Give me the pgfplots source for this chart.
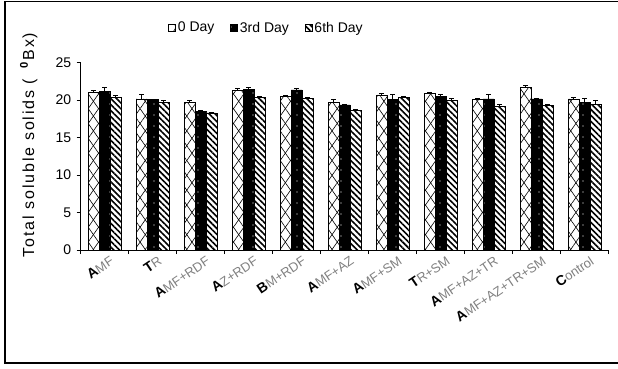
\documentclass[border=0pt]{standalone}
\usepackage{pgfplots}
\pgfplotsset{compat=1.18}
\usepackage{pgfplotstable}
\usepackage{fontspec}
\setmainfont{Liberation Sans}
\newfontfamily\ylabfont[LetterSpace=12]{Liberation Sans}
\usetikzlibrary{patterns,patterns.meta}

\pgfplotstableread{
x v0 e0 v3 e3 v6 e6
0 21.05 0.27 21.20 0.45 20.35 0.25
1 20.15 0.60 20.05 0.05 19.70 0.20
2 19.70 0.20 18.45 0.20 18.30 0.05
3 21.30 0.27 21.45 0.20 20.35 0.10
4 20.45 0.15 21.35 0.20 20.25 0.10
5 19.70 0.35 19.35 0.10 18.60 0.10
6 20.70 0.15 20.05 0.70 20.35 0.15
7 20.85 0.20 20.45 0.30 20.00 0.15
8 20.15 0.10 20.15 0.60 19.20 0.15
9 21.70 0.25 20.15 0.10 19.25 0.15
10 20.15 0.15 19.65 0.50 19.45 0.50
}\data

\pgfplotsset{sqlegend/.style={legend image code/.code={\draw[##1] (0pt,-3.5pt) rectangle (7pt,3.5pt);}}}

\newcommand{\lab}[2]{{\fontsize{14}{14}\selectfont\bfseries #1}{\color{black!50}\fontsize{13}{13}\selectfont #2}}

\begin{document}
\begin{tikzpicture}[x=1pt,y=1pt]
\path[use as bounding box] (0,0) rectangle (618,368);
\draw[line width=1.5pt] (630,5) -- (5,5) -- (5,366.5) -- (630,366.5);
\begin{axis}[
  at={(80.7pt,118pt)}, anchor=south west,
  scale only axis, width=528pt, height=187.5pt,
  ybar=0pt, bar width=11pt,
  xmin=-0.5, xmax=10.5, ymin=0, ymax=25,
  axis x line*=bottom, axis y line*=left,
  axis line style={line width=1pt},
  ytick={0,5,...,25},
  minor ytick={0,5,...,25},
  xtick={0,...,10},
  minor xtick={-0.5,0.5,...,10.5},
  xticklabels={\lab{A}{MF},\lab{T}{R},\lab{A}{MF+RDF},\lab{A}{Z+RDF},\lab{B}{M+RDF},\lab{A}{MF+AZ},\lab{A}{MF+SM},\lab{T}{R+SM},\lab{A}{MF+AZ+TR},\lab{A}{MF+AZ+TR+SM},\lab{C}{ontrol}},
  xticklabel style={rotate=34, anchor=north east, inner sep=1pt, yshift=-6pt, xshift=2pt},
  tick align=outside, major tick length=0pt, minor tick length=4pt,
  tick style={black, line width=1pt},
  /pgf/number format/assume math mode=true,
  yticklabel style={font=\fontsize{14}{16}\selectfont, xshift=-6pt},
  ylabel={\ylabfont Total soluble solids (\hspace{10pt}\textsuperscript{\textbf{0}}Bx)},
  ylabel style={at={(axis description cs:-0.0985,0.56)}, anchor=center, font=\fontsize{16}{18}\selectfont},
  legend style={at={(0.352,1.185)}, anchor=center, draw=none, fill=none,
    legend columns=3, font=\fontsize{14}{16}\selectfont,
    /tikz/every even column/.append style={column sep=14pt},
    inner sep=0pt},
  legend cell align=left,
  error bars/y dir=plus, error bars/y explicit,
  error bars/error bar style={black, line width=0.8pt},
  error bars/error mark options={rotate=90, mark size=2.6pt, line width=1pt, black},
]
\addplot[draw=black, line width=0.5pt, fill=white,
  postaction={pattern={Lines[angle=55,distance=8.5pt,line width=0.6pt]}},
  postaction={pattern={Lines[angle=-55,distance=8.5pt,line width=0.6pt]}},
  sqlegend]
  table[x=x, y=v0, y error=e0] {\data};
\addlegendentry{0 Day}
\addplot[draw=black, line width=0.5pt, fill=black,
  postaction={pattern={Dots[radius=0.7pt,distance=11pt]}, pattern color=white},
  sqlegend]
  table[x=x, y=v3, y error=e3] {\data};
\addlegendentry{3rd Day}
\addplot[draw=black, line width=0.5pt, fill=white,
  postaction={pattern={Lines[angle=-45,distance=4.2pt,line width=1.6pt]}},
  sqlegend]
  table[x=x, y=v6, y error=e6] {\data};
\addlegendentry{6th Day}
\end{axis}
\end{tikzpicture}
\end{document}
